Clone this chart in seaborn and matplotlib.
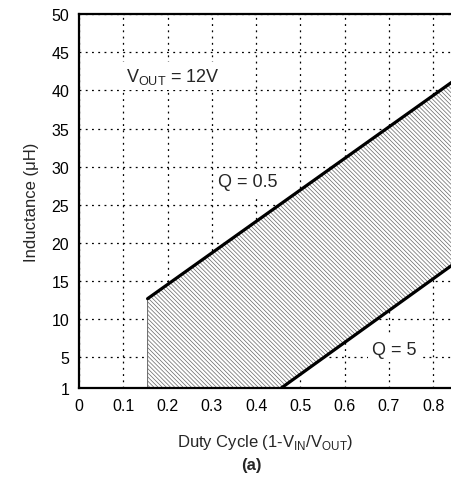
import numpy as np
import matplotlib
matplotlib.use("Agg")
import matplotlib.pyplot as plt
import seaborn as sns

# boundary lines
duty_q05 = [0.155, 0.845]
ind_q05 = [12.7, 41.2]
duty_q5 = [0.457, 0.845]
ind_q5 = [1.0, 17.2]

x_ticks = [0, 0.1, 0.2, 0.3, 0.4, 0.5, 0.6, 0.7, 0.8]
x_labels = ["0", "0.1", "0.2", "0.3", "0.4", "0.5", "0.6", "0.7", "0.8"]
y_ticks = [1, 5, 10, 15, 20, 25, 30, 35, 40, 45, 50]

sns.set_theme(style="white")
plt.rcParams["font.family"] = ["Liberation Sans", "DejaVu Sans"]
plt.rcParams["mathtext.fontset"] = "custom"
plt.rcParams["mathtext.rm"] = "Liberation Sans"
plt.rcParams["hatch.linewidth"] = 0.5

fig = plt.figure(figsize=(4.51, 4.85), dpi=100)
ax = fig.add_axes([0.175, 0.198, 0.825, 0.771])

# hatched design region between the two Q curves
xs = np.array([duty_q05[0], duty_q5[0], duty_q05[1]])
upper = np.interp(xs, duty_q05, ind_q05)
lower = np.maximum(np.interp(xs, duty_q5, ind_q5, left=1.0), 1.0)
ax.fill_between(xs, lower, upper, facecolor="white", edgecolor="0.4",
                linewidth=0.7, hatch="\\" * 8, zorder=1)

sns.lineplot(x=duty_q05, y=ind_q05, ax=ax, color="black", linewidth=2.3, zorder=3)
sns.lineplot(x=duty_q5, y=ind_q5, ax=ax, color="black", linewidth=2.3, zorder=3)

ax.set_xlim(0, 0.84)
ax.set_ylim(1, 50)
ax.set_xticks(x_ticks)
ax.set_xticklabels(x_labels)
ax.set_yticks(y_ticks)
ax.tick_params(length=0, labelsize=11.5, colors="black", pad=7)

ax.grid(True, color="black", linestyle=(0, (1.5, 3.5)), linewidth=0.9)
for g in ax.get_xgridlines() + ax.get_ygridlines():
    g.set_zorder(2)

for side in ["left", "top", "bottom"]:
    ax.spines[side].set_color("black")
    ax.spines[side].set_linewidth(1.6)
ax.spines["right"].set_visible(False)

box = dict(facecolor="white", edgecolor="none", pad=3)
ax.text(0.106, 41.9, r"V$_\mathregular{OUT}$ = 12V", fontsize=13, va="center", bbox=box, zorder=4)
ax.text(0.314, 28.0, "Q = 0.5", fontsize=13, va="center", bbox=box, zorder=4)
ax.text(0.661, 6.1, "Q = 5", fontsize=13, va="center", bbox=box, zorder=4)

ax.set_xlabel(r"Duty Cycle (1-V$_\mathregular{IN}$/V$_\mathregular{OUT}$)", fontsize=12, labelpad=14)
ax.set_ylabel("Inductance (μH)", fontsize=12, labelpad=9)
fig.text(0.557, 0.03, "(a)", fontsize=12, fontweight="bold", ha="center")

fig.savefig("out.png", dpi=100)
